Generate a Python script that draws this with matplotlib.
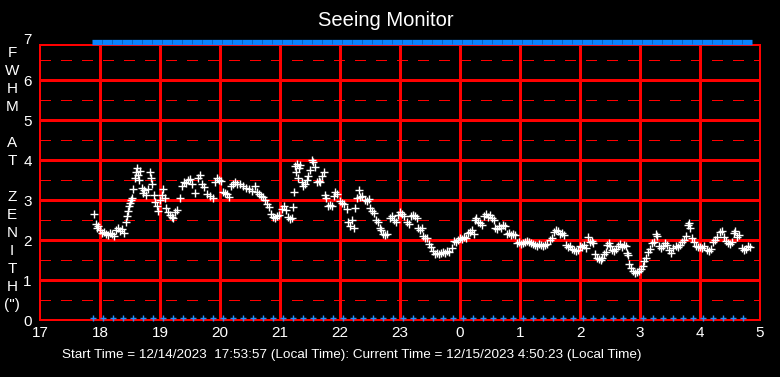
import matplotlib
matplotlib.use('Agg')
import matplotlib.pyplot as plt

plt.rcParams['font.family'] = ['Liberation Sans', 'DejaVu Sans']
plt.rcParams['lines.scale_dashes'] = False

# seeing samples: minutes after 17:00 local time, FWHM at zenith (arcsec)
minutes = [54, 56, 57, 58, 60, 62, 64, 66, 68, 70, 72, 74, 76, 78, 80, 82, 84, 86, 87, 88,
           89, 90, 91, 92, 93, 95, 96, 97, 98, 99, 100, 102, 103, 104, 106, 108, 110, 111, 112, 114,
           115, 117, 118, 120, 122, 123, 125, 126, 128, 130, 132, 133, 135, 137, 140, 142, 144, 146, 148, 150,
           152, 155, 158, 160, 162, 164, 167, 170, 173, 175, 177, 179, 181, 183, 185, 187, 189, 191, 193, 195,
           197, 200, 203, 206, 209, 212, 215, 217, 219, 221, 223, 225, 227, 229, 231, 233, 235, 237, 239, 242,
           244, 246, 248, 250, 252, 253, 254, 255, 256, 257, 258, 259, 260, 262, 263, 265, 267, 268, 270, 272,
           273, 275, 277, 279, 280, 282, 284, 285, 286, 288, 290, 292, 294, 295, 297, 300, 302, 304, 307, 308,
           310, 312, 314, 315, 317, 319, 320, 322, 325, 327, 329, 330, 332, 334, 336, 338, 340, 341, 343, 345,
           347, 350, 352, 354, 356, 358, 360, 362, 364, 367, 369, 371, 373, 375, 377, 378, 380, 382, 383, 385,
           387, 389, 391, 393, 395, 397, 399, 401, 403, 405, 407, 409, 412, 414, 416, 418, 420, 422, 424, 426,
           428, 430, 432, 434, 435, 436, 438, 440, 442, 444, 446, 448, 450, 452, 454, 455, 457, 459, 461, 463,
           465, 467, 469, 471, 473, 475, 477, 479, 481, 483, 485, 487, 489, 491, 493, 495, 497, 499, 501, 503,
           505, 507, 510, 512, 514, 516, 518, 520, 522, 524, 526, 528, 530, 532, 534, 536, 538, 540, 542, 544,
           546, 548, 550, 552, 553, 555, 557, 559, 561, 562, 564, 566, 567, 569, 570, 572, 574, 576, 578, 580,
           582, 584, 586, 587, 588, 589, 591, 593, 595, 597, 599, 601, 603, 604, 606, 608, 610, 612, 614, 616,
           617, 619, 621, 623, 625, 627, 629, 631, 633, 636, 638, 640, 642, 644, 646, 648, 649, 650, 652, 654,
           656, 658, 660, 662, 664, 667, 669, 671, 673, 675, 677, 680, 682, 684, 686, 688, 690, 692, 694, 695,
           697, 699, 702, 704, 706, 708, 710]
fwhm = [2.65, 2.40, 2.30, 2.35, 2.25, 2.18, 2.20, 2.15, 2.12, 2.18, 2.15, 2.10, 2.25, 2.30, 2.22, 2.28, 2.18, 2.45, 2.60, 2.72,
        2.85, 2.92, 3.00, 3.05, 3.27, 3.55, 3.70, 3.79, 3.62, 3.50, 3.72, 3.30, 3.18, 3.25, 3.12, 3.28, 3.70, 3.55, 3.40, 3.12,
        2.95, 2.85, 2.72, 3.00, 3.12, 3.27, 3.04, 2.80, 2.70, 2.62, 2.58, 2.54, 2.70, 2.75, 3.04, 3.35, 3.45, 3.42, 3.50, 3.52,
        3.40, 3.17, 3.55, 3.62, 3.40, 3.33, 3.15, 3.10, 3.05, 3.45, 3.55, 3.50, 3.48, 3.20, 3.18, 3.15, 3.08, 3.35, 3.40, 3.45,
        3.40, 3.40, 3.35, 3.30, 3.28, 3.22, 3.35, 3.20, 3.15, 3.10, 3.08, 3.00, 2.90, 2.82, 2.65, 2.58, 2.55, 2.60, 2.62, 2.78,
        2.85, 2.75, 2.58, 2.52, 2.55, 2.83, 3.20, 3.85, 3.70, 3.90, 3.54, 3.80, 3.88, 3.45, 3.35, 3.40, 3.50, 3.60, 3.75, 4.00,
        3.95, 3.83, 3.45, 3.48, 3.45, 3.60, 3.70, 3.12, 3.05, 2.85, 2.88, 2.85, 3.10, 3.20, 3.15, 2.98, 2.92, 2.90, 2.77, 2.45,
        2.35, 2.50, 2.30, 2.80, 3.05, 3.25, 3.08, 3.10, 3.00, 2.98, 3.02, 2.80, 2.72, 2.68, 2.50, 2.45, 2.30, 2.25, 2.15, 2.12,
        2.15, 2.55, 2.60, 2.50, 2.45, 2.62, 2.70, 2.65, 2.60, 2.45, 2.40, 2.60, 2.62, 2.60, 2.55, 2.30, 2.25, 2.30, 2.10, 2.05,
        2.05, 1.90, 1.82, 1.72, 1.65, 1.68, 1.66, 1.68, 1.70, 1.67, 1.72, 1.70, 1.80, 1.98, 1.95, 2.00, 2.05, 2.02, 2.08, 2.05,
        2.18, 2.20, 2.25, 2.15, 2.50, 2.55, 2.45, 2.42, 2.38, 2.60, 2.65, 2.58, 2.62, 2.55, 2.50, 2.30, 2.28, 2.35, 2.30, 2.38,
        2.35, 2.15, 2.18, 2.12, 2.15, 2.13, 1.92, 1.95, 1.90, 1.93, 1.95, 1.97, 1.95, 1.92, 1.90, 1.88, 1.85, 1.90, 1.87, 1.85,
        1.88, 1.90, 2.00, 2.05, 2.20, 2.25, 2.22, 2.15, 2.18, 2.12, 1.88, 1.82, 1.85, 1.78, 1.75, 1.72, 1.75, 1.85, 1.82, 1.88,
        1.80, 2.08, 1.95, 1.97, 1.92, 1.65, 1.55, 1.52, 1.50, 1.55, 1.65, 1.70, 1.88, 1.92, 1.85, 1.75, 1.72, 1.78, 1.85, 1.90,
        1.82, 1.88, 1.85, 1.68, 1.62, 1.40, 1.30, 1.22, 1.18, 1.20, 1.22, 1.28, 1.35, 1.48, 1.55, 1.70, 1.78, 1.92, 1.95, 2.15,
        2.10, 1.85, 1.80, 1.85, 1.92, 1.88, 1.75, 1.67, 1.80, 1.85, 1.82, 1.87, 1.95, 2.00, 2.10, 2.38, 2.42, 2.30, 2.05, 1.95,
        1.85, 1.83, 1.82, 1.80, 1.85, 1.75, 1.72, 1.78, 1.95, 2.00, 2.08, 2.20, 2.22, 2.08, 1.98, 1.93, 1.90, 1.95, 2.18, 2.22,
        2.08, 2.12, 1.80, 1.75, 1.78, 1.85, 1.83]

# status flags (minutes after 17:00), drawn along top and bottom
flag_minutes = [53, 63, 73, 83, 93, 103, 113, 123, 133, 143, 153, 163, 173, 183, 193, 203, 213, 223, 233, 243,
                253, 263, 273, 283, 293, 303, 313, 323, 333, 343, 353, 363, 373, 383, 393, 403, 413, 423, 433, 443,
                453, 463, 473, 483, 493, 503, 513, 523, 533, 543, 553, 563, 573, 583, 593, 603, 613, 623, 633, 643,
                653, 663, 673, 683, 693, 703]

hour_ticks = [17, 18, 19, 20, 21, 22, 23, 24, 25, 26, 27, 28, 29]
hour_labels = ['17', '18', '19', '20', '21', '22', '23', '0', '1', '2', '3', '4', '5']
ylabel_letters = ['F', 'W', 'H', 'M', '', 'A', 'T', '', 'Z', 'E', 'N', 'I', 'T', 'H', '(")']

hours = [17 + m / 60 for m in minutes]
flag_hours = [17 + m / 60 for m in flag_minutes]
bar_hours = [h + 4 / 60 for h in flag_hours]

fig = plt.figure(figsize=(7.8, 3.77), dpi=100, facecolor='black')
ax = fig.add_axes([40 / 780, 57 / 377, 720 / 780, 275 / 377])
ax.set_facecolor('black')
ax.set_xlim(17, 29)
ax.set_ylim(0, 6.875)

red = '#ff0000'
for y in range(1, 7):
    ax.axhline(y, color=red, lw=0.9, zorder=1, antialiased=False)
for y in [0.5, 1.5, 2.5, 3.5, 4.5, 5.5, 6.5]:
    ax.axhline(y, color=red, lw=0.9, linestyle=(0, (7.2, 7.2)), zorder=1, antialiased=False)
for h in hour_ticks[1:-1]:
    ax.axvline(h, color=red, lw=0.9, zorder=1, antialiased=False)
for s in ax.spines.values():
    s.set_color(red)
    s.set_linewidth(1.1)
    s.set_antialiased(False)

ax.plot(hours, fwhm, linestyle='none', marker='+', color='white', ms=5.5, mew=1.0, zorder=3)
ax.plot(flag_hours, [0.06] * len(flag_hours), linestyle='none', marker='+', color='#1e90ff',
        ms=4.5, mew=1.0, zorder=3, clip_on=False)
ax.plot(bar_hours, [6.94] * len(bar_hours), linestyle='none', marker='_', color='#0a84ff',
        ms=6.8, mew=3.8, zorder=3, clip_on=False)

ax.set_xticks(hour_ticks)
ax.set_xticklabels(hour_labels)
ax.set_yticks(range(0, 7))
ax.tick_params(length=0, colors='white', labelsize=11)
ax.tick_params(axis='x', pad=4)
ax.tick_params(axis='y', pad=6)
ax.text(-0.012, 7, '7', transform=ax.get_yaxis_transform(), ha='right', va='center',
        color='white', fontsize=11)

fig.text(0.495, 1 - 20 / 377, 'Seeing Monitor', ha='center', va='center', color='white', fontsize=14.5)
for i, ch in enumerate(ylabel_letters):
    fig.text(12 / 780, 1 - (53 + i * 18) / 377, ch, ha='center', va='center', color='white', fontsize=11)
fig.text(62 / 780, 1 - 355 / 377,
         'Start Time = 12/14/2023  17:53:57 (Local Time): Current Time = 12/15/2023 4:50:23 (Local Time)',
         ha='left', va='center', color='white', fontsize=9.7)

fig.savefig('out.png', dpi=100, facecolor='black')
